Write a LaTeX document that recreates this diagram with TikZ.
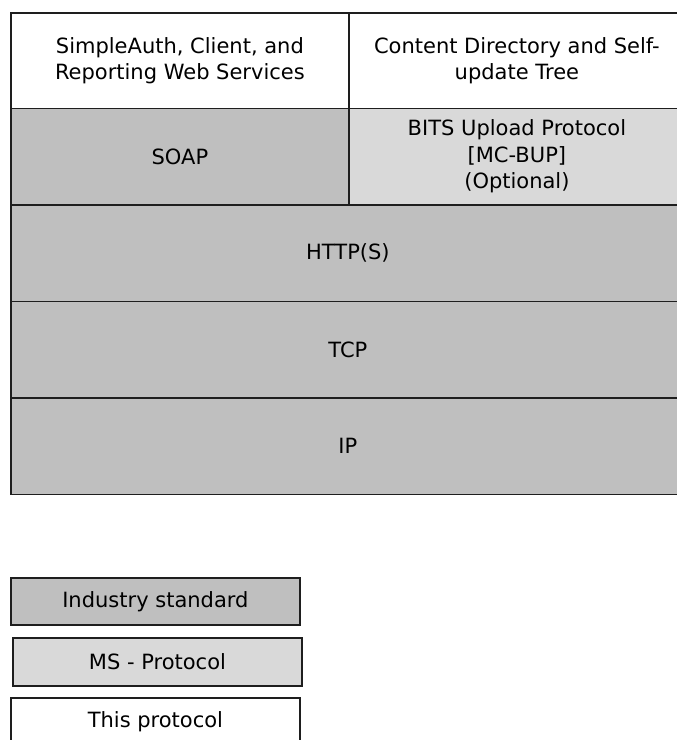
\documentclass[tikz,border=0pt]{standalone}
\usepackage{fontspec}
\setmainfont{DejaVu Sans}
\usepackage{xcolor}
\definecolor{stdgray}{HTML}{BFBFBF}
\definecolor{msgray}{HTML}{D9D9D9}
\definecolor{edge}{HTML}{1E1E1E}

\begin{document}
\begin{tikzpicture}[x=1pt, y=-1pt,
    layer/.style={draw=edge, line width=1.8pt, anchor=north west, inner sep=0pt,
        align=center, font=\fontsize{21}{26.5}\selectfont},
    industry/.style={layer, fill=stdgray},
    msproto/.style={layer, fill=msgray},
    thisproto/.style={layer, fill=white}]
                    \useasboundingbox (0,0) rectangle (677,740);

                    % Top row
                    \node[thisproto, minimum width=338pt, minimum height=95.5pt] (svc) at (10,12)
                        {SimpleAuth, Client, and\\Reporting Web Services};
                    \node[thisproto, minimum width=336pt, minimum height=95.5pt] (tree) at (348,12)
                        {Content Directory and Self-\\update Tree};

                    % Second row
                    \node[industry, minimum width=338pt, minimum height=96.5pt] (soap) at (10,107.5) {SOAP};
                    \node[msproto, minimum width=336pt, minimum height=96.5pt] (bits) at (348,107.5)
                        {BITS Upload Protocol\\{[MC-BUP]}\\(Optional)};

                    % Transport layers
                    \foreach \y/\name/\label in {204/http/HTTP(S), 300.5/tcp/TCP, 397/ip/IP}
                        \node[industry, minimum width=674pt, minimum height=96.5pt] (\name) at (10,\y) {\label};

                    % Legend
                    \node[industry, minimum width=289pt, minimum height=47pt] (ind) at (10,577) {Industry standard};
                    \node[msproto, minimum width=289pt, minimum height=48pt] (ms) at (12,637) {MS - Protocol};
                    \node[thisproto, minimum width=289pt, minimum height=48pt] (own) at (10,697) {This protocol};
                \end{tikzpicture}
\end{document}
